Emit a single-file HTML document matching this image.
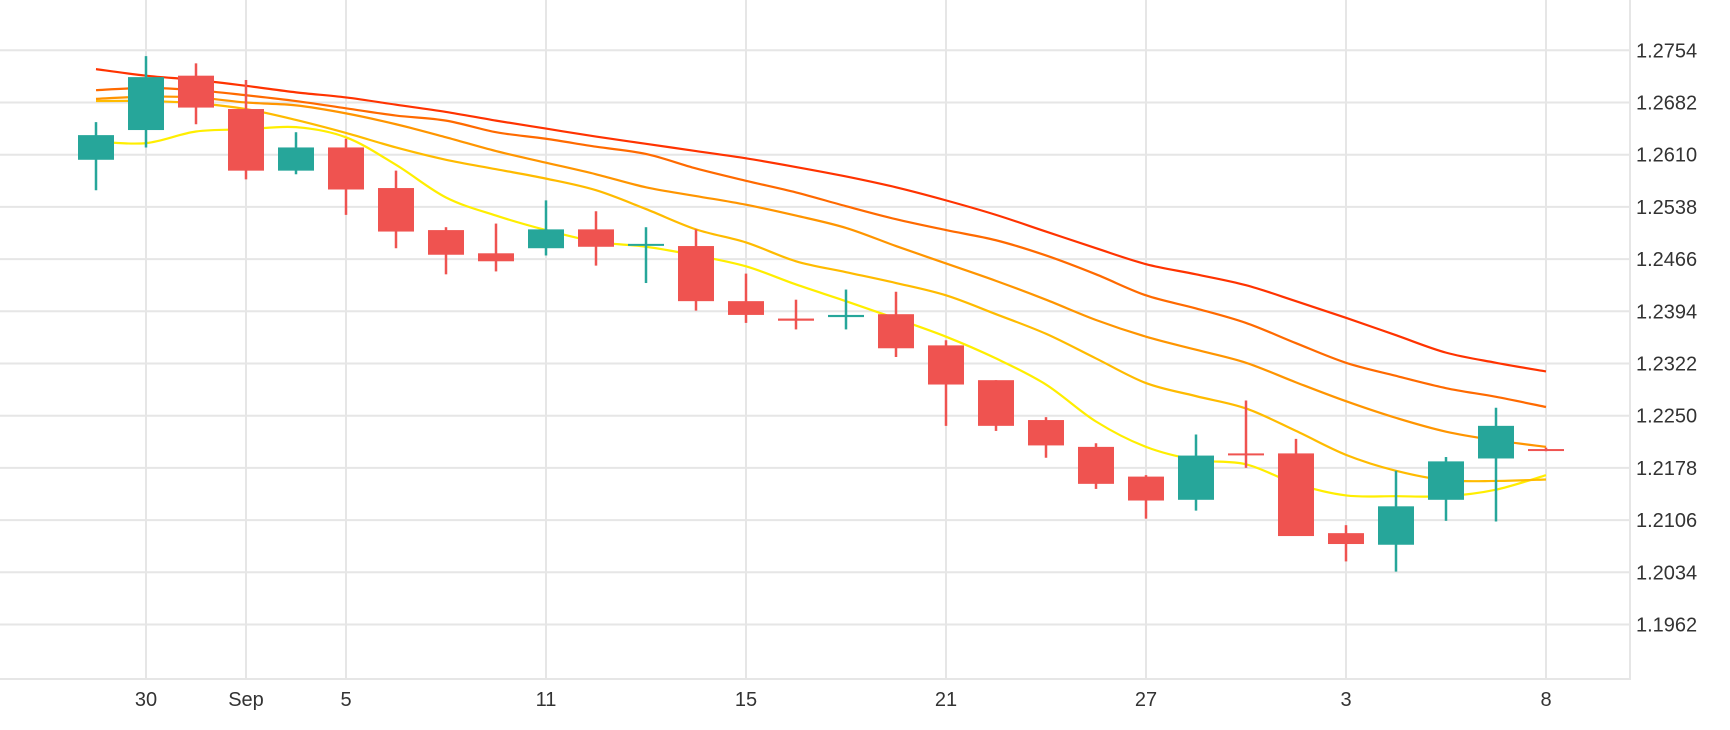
<!DOCTYPE html>
<html><head><meta charset="utf-8"><style>
html,body{margin:0;padding:0;background:#fff;}
svg{display:block;font-family:"Liberation Sans",sans-serif;}
</style></head><body>
<svg id="chart" width="1730" height="730" viewBox="0 0 1730 730" xmlns="http://www.w3.org/2000/svg">
<g id="grid"></g>
<g id="lines"></g>
<g id="candles"></g>
<g id="axes"></g>
</svg>
<script>
const opens  = [1.2603,1.2644,1.2719,1.2673,1.2588,1.2620,1.2564,1.2506,1.2474,1.2481,1.2507,1.2486,1.2484,1.2408,1.2384,1.2386,1.2390,1.2347,1.2299,1.2244,1.2207,1.2166,1.2134,1.2198,1.2198,1.2088,1.2072,1.2134,1.2191,1.2204];
const highs  = [1.2655,1.2746,1.2736,1.2713,1.2641,1.2632,1.2588,1.2510,1.2515,1.2547,1.2532,1.2510,1.2507,1.2446,1.2410,1.2424,1.2421,1.2354,1.2299,1.2248,1.2212,1.2168,1.2224,1.2271,1.2218,1.2099,1.2174,1.2193,1.2261,1.2206];
const lows   = [1.2561,1.2620,1.2652,1.2576,1.2583,1.2527,1.2481,1.2445,1.2449,1.2471,1.2457,1.2433,1.2395,1.2378,1.2369,1.2369,1.2331,1.2236,1.2229,1.2192,1.2149,1.2108,1.2119,1.2178,1.2084,1.2049,1.2035,1.2105,1.2104,1.2201];
const closes = [1.2637,1.2717,1.2675,1.2588,1.2620,1.2562,1.2504,1.2472,1.2463,1.2507,1.2483,1.2487,1.2408,1.2389,1.2381,1.2389,1.2343,1.2293,1.2236,1.2209,1.2156,1.2133,1.2195,1.2196,1.2084,1.2073,1.2125,1.2187,1.2236,1.2203];
const maA = [1.2728,1.2719,1.2713,1.2705,1.2696,1.2689,1.2679,1.2669,1.2657,1.2646,1.2635,1.2625,1.2615,1.2605,1.2593,1.2580,1.2565,1.2547,1.2527,1.2504,1.2481,1.2459,1.2445,1.2430,1.2408,1.2385,1.2361,1.2337,1.2323,1.2311];
const maB = [1.2699,1.2702,1.2699,1.2692,1.2684,1.2674,1.2664,1.2657,1.2641,1.2632,1.2621,1.2611,1.2591,1.2574,1.2558,1.2539,1.2521,1.2506,1.2492,1.2471,1.2445,1.2416,1.2398,1.2378,1.2350,1.2323,1.2305,1.2288,1.2276,1.2262];
const maC = [1.2687,1.2690,1.2689,1.2682,1.2678,1.2667,1.2652,1.2634,1.2615,1.2599,1.2583,1.2565,1.2553,1.2541,1.2526,1.2509,1.2484,1.2460,1.2436,1.2410,1.2382,1.2359,1.2341,1.2323,1.2296,1.2270,1.2247,1.2228,1.2216,1.2207];
const maD = [1.2684,1.2684,1.2681,1.2673,1.2658,1.2640,1.2620,1.2603,1.2590,1.2577,1.2561,1.2535,1.2507,1.2489,1.2463,1.2448,1.2433,1.2416,1.2390,1.2363,1.2329,1.2295,1.2277,1.2260,1.2229,1.2196,1.2174,1.2161,1.2160,1.2162];
const maE = [1.2628,1.2626,1.2642,1.2645,1.2648,1.2634,1.2596,1.2551,1.2526,1.2506,1.2490,1.2483,1.2471,1.2456,1.2431,1.2408,1.2384,1.2359,1.2329,1.2293,1.2242,1.2207,1.2189,1.2183,1.2156,1.2140,1.2139,1.2139,1.2148,1.2168];
const yTicks = [1.2754,1.2682,1.2610,1.2538,1.2466,1.2394,1.2322,1.2250,1.2178,1.2106,1.2034,1.1962];
const xTickIdx = [1,3,5,9,13,17,21,25,29];
const xTickLabels = ["30","Sep","5","11","15","21","27","3","8"];

const NS="http://www.w3.org/2000/svg";
const X = i => 96 + 50*i;
const Y = p => 50.3 + (1.2754 - p)*7250;
function mk(tag, attrs, parent){const e=document.createElementNS(NS,tag);for(const k in attrs)e.setAttribute(k,attrs[k]);parent.appendChild(e);return e;}
const grid=document.getElementById('grid'), axes=document.getElementById('axes'), lines=document.getElementById('lines'), candles=document.getElementById('candles');

yTicks.forEach((t)=>{
  const y=Y(t);
  const l=mk('line',{x1:0,x2:1629,y1:y,y2:y,stroke:'#e6e6e6','stroke-width':2},grid);
  
  
  const tx=mk('text',{x:1636,y:y+7,'font-size':20,fill:'#333'},axes);
  tx.textContent=t.toFixed(4);
  
  
});
xTickIdx.forEach((idx,k)=>{
  const x=X(idx);
  const l=mk('line',{x1:x,x2:x,y1:0,y2:679,stroke:'#e6e6e6','stroke-width':2},grid);
  
  
  const tx=mk('text',{x:x,y:706,'font-size':20,fill:'#333','text-anchor':'middle'},axes);
  tx.textContent=xTickLabels[k];
  
  
});
const bx=mk('line',{x1:0,x2:1630,y1:679,y2:679,stroke:'#e6e6e6','stroke-width':2},grid);


const by=mk('line',{x1:1630,x2:1630,y1:0,y2:680,stroke:'#e6e6e6','stroke-width':2},grid);



function smooth(vals){
  const pts=vals.map((v,i)=>[X(i),Y(v)]);
  let d='M'+pts[0][0]+','+pts[0][1];
  for(let i=0;i<pts.length-1;i++){
    const p0=pts[Math.max(i-1,0)],p1=pts[i],p2=pts[i+1],p3=pts[Math.min(i+2,pts.length-1)];
    const c1=[p1[0]+(p2[0]-p0[0])/6,p1[1]+(p2[1]-p0[1])/6];
    const c2=[p2[0]-(p3[0]-p1[0])/6,p2[1]-(p3[1]-p1[1])/6];
    d+=' C'+c1[0]+','+c1[1]+' '+c2[0]+','+c2[1]+' '+p2[0]+','+p2[1];
  }
  return d;
}
const series=[[maE,'#ffee00','ma-yellow'],[maD,'#ffbb00','ma-amber'],[maC,'#ff9500','ma-orange'],[maB,'#ff6a00','ma-dark-orange'],[maA,'#ff3300','ma-red']];
series.forEach(s=>{
  const p=mk('path',{d:smooth(s[0]),fill:'none',stroke:s[1],'stroke-width':2.2},lines);
  
  
});

opens.forEach((o,i)=>{
  const c=closes[i], up=c>=o, col=up?'#26a69a':'#ef5350';
  const g=mk('g',{},candles);
  
  
  const x=X(i);
  mk('line',{x1:x,x2:x,y1:Y(highs[i]),y2:Y(lows[i]),stroke:col,'stroke-width':2.5},g);
  const top=Y(Math.max(o,c)), bot=Y(Math.min(o,c));
  mk('rect',{x:x-18,y:top,width:36,height:Math.max(bot-top,2),fill:col},g);
});
</script>
</body></html>
